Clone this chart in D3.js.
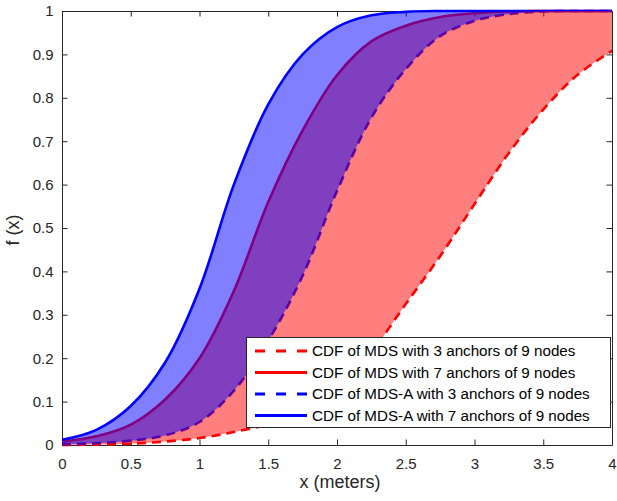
<!DOCTYPE html>
<html><head><meta charset="utf-8">
<script src="https://cdn.jsdelivr.net/npm/d3@7"></script>
<style>body{margin:0;background:#fff}svg{display:block;font-family:"Liberation Sans",Arial,Helvetica,sans-serif}</style>
</head><body>
<svg id="c" width="617" height="501"></svg>
<script>
// x grid (meters)
const xGrid = [0,0.25,0.5,0.75,1,1.25,1.5,1.75,2,2.25,2.5,2.75,3,3.25,3.5,3.75,4];
// CDF of MDS with 3 anchors of 9 nodes
const mds3  = [0,0.001,0.003,0.008,0.016,0.03,0.048,0.08,0.135,0.215,0.325,0.435,0.555,0.673,0.773,0.853,0.908];
// CDF of MDS with 7 anchors of 9 nodes
const mds7  = [0.008,0.02,0.047,0.105,0.2,0.355,0.56,0.725,0.852,0.93,0.966,0.986,0.995,0.999,1,1,1];
// CDF of MDS-A with 3 anchors of 9 nodes
const mdsA3 = [0.002,0.004,0.01,0.022,0.053,0.125,0.24,0.39,0.585,0.754,0.866,0.942,0.977,0.993,0.999,1,1];
// CDF of MDS-A with 7 anchors of 9 nodes
const mdsA7 = [0.012,0.035,0.09,0.19,0.36,0.6,0.785,0.9,0.963,0.99,0.998,1,1,1,1,1,1];

const xTicks = [0,0.5,1,1.5,2,2.5,3,3.5,4];
const xTickLabels = ["0","0.5","1","1.5","2","2.5","3","3.5","4"];
const yTicks = [0,0.1,0.2,0.3,0.4,0.5,0.6,0.7,0.8,0.9,1];
const yTickLabels = ["0","0.1","0.2","0.3","0.4","0.5","0.6","0.7","0.8","0.9","1"];
const legendLabels = [
  "CDF of MDS with 3 anchors of 9 nodes",
  "CDF of MDS with 7 anchors of 9 nodes",
  "CDF of MDS-A with 3 anchors of 9 nodes",
  "CDF of MDS-A with 7 anchors of 9 nodes"
];
const xLabel = "x (meters)";
const yLabel = "f (x)";

const svg = d3.select('#c');
const L = 62, R = 612, T = 11, B = 445;
const x = d3.scaleLinear().domain([0,4]).range([L,R]);
const y = d3.scaleLinear().domain([0,1]).range([B,T]);
const axisColor = '#262626';

svg.append('rect').attr('width',617).attr('height',501).attr('fill','#fff');

// axes (drawn below data, like MATLAB default layer)
function styleAxis(g){
  g.selectAll('path.domain').attr('stroke',axisColor).attr('stroke-width',1);
  g.selectAll('.tick line').attr('stroke',axisColor).attr('stroke-width',1);
  g.selectAll('.tick text').attr('fill',axisColor).attr('font-size',15).attr('font-family','"Liberation Sans",Arial,sans-serif');
}
svg.append('g').attr('transform',`translate(0,${B})`)
  .call(d3.axisBottom(x).tickValues(xTicks).tickFormat((d,i)=>xTickLabels[i]).tickSizeInner(-5.5).tickSizeOuter(0).tickPadding(13))
  .call(styleAxis);
svg.append('g').attr('transform',`translate(0,${T})`)
  .call(d3.axisTop(x).tickValues(xTicks).tickFormat('').tickSizeInner(-5.5).tickSizeOuter(0))
  .call(styleAxis);
svg.append('g').attr('transform',`translate(${L},0)`)
  .call(d3.axisLeft(y).tickValues(yTicks).tickFormat((d,i)=>yTickLabels[i]).tickSizeInner(-5.5).tickSizeOuter(0).tickPadding(8.5))
  .call(styleAxis);
svg.append('g').attr('transform',`translate(${R},0)`)
  .call(d3.axisRight(y).tickValues(yTicks).tickFormat('').tickSizeInner(-5.5).tickSizeOuter(0))
  .call(styleAxis);

// labels
svg.append('text').attr('x',(L+R)/2+3).attr('y',488).attr('text-anchor','middle')
  .attr('font-size',18).attr('fill',axisColor).text(xLabel);
svg.append('text').attr('transform',`translate(19,${(T+B)/2+2}) rotate(-90)`).attr('text-anchor','middle')
  .attr('font-size',18).attr('fill',axisColor).text(yLabel);

// data
svg.append('defs').append('clipPath').attr('id','clip').append('rect')
  .attr('x',L).attr('y',T-3).attr('width',R-L).attr('height',B-T+6);
const data = svg.append('g').attr('clip-path','url(#clip)');
const pts = arr => xGrid.map((xv,i)=>[xv,arr[i]]);
const curve = d3.curveCatmullRom.alpha(0.5);
const line = d3.line().x(d=>x(d[0])).y(d=>y(d[1])).curve(curve);

const series = [
  {vals: mds3,  color:'#ff0000', dash:'9,6'},
  {vals: mds7,  color:'#ff0000', dash:null},
  {vals: mdsA3, color:'#0000ff', dash:'9,6'},
  {vals: mdsA7, color:'#0000ff', dash:null}
];
series.forEach(s=>{
  data.append('path').attr('d',line(pts(s.vals))).attr('fill','none')
    .attr('stroke',s.color).attr('stroke-width',2.6)
    .attr('stroke-dasharray',s.dash);
});

const area = (lo,hi) => d3.area().x((d,i)=>x(xGrid[i])).y0((d,i)=>y(lo[i])).y1((d,i)=>y(hi[i])).curve(curve)(xGrid);
data.append('path').attr('d',area(mds3,mds7)).attr('fill','#ff0000').attr('fill-opacity',0.5);
data.append('path').attr('d',area(mdsA3,mdsA7)).attr('fill','#0000ff').attr('fill-opacity',0.5);

// legend
const lg = svg.append('g');
lg.append('rect').attr('x',246.5).attr('y',337.5).attr('width',364).attr('height',90)
  .attr('fill','#fff').attr('stroke',axisColor).attr('stroke-width',1);
const rowY = [351,372.5,394,415.5];
series.forEach((s,i)=>{
  lg.append('line').attr('x1',255).attr('x2',307).attr('y1',rowY[i]).attr('y2',rowY[i])
    .attr('stroke',s.color).attr('stroke-width',2.8).attr('stroke-dasharray',s.dash?'10,11':null);
  lg.append('text').attr('x',312).attr('y',rowY[i]).attr('dy','0.36em')
    .attr('font-size',15.2).attr('fill','#000').text(legendLabels[i]);
});
</script>
</body></html>
